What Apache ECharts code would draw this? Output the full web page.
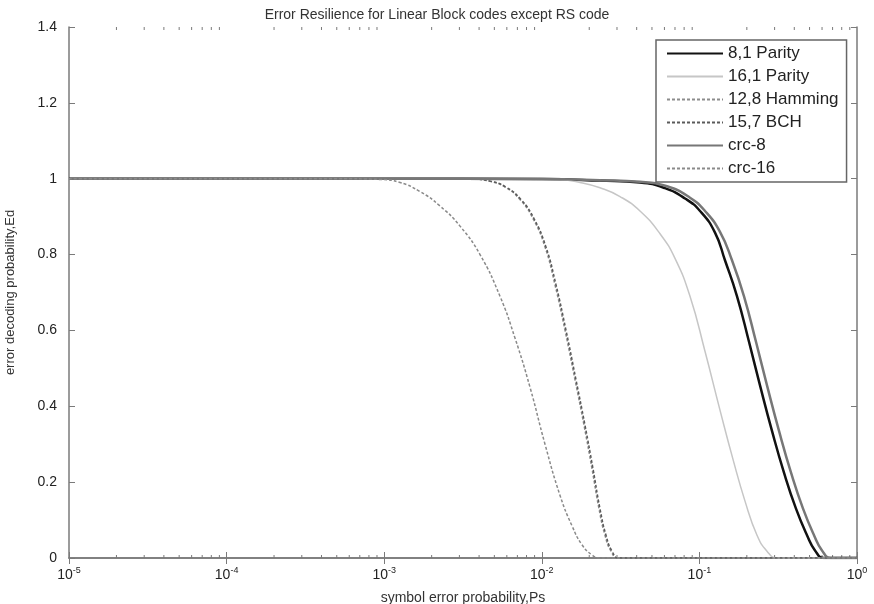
<!DOCTYPE html>
<html>
<head>
<meta charset="utf-8">
<script src="https://cdn.jsdelivr.net/npm/echarts@6/dist/echarts.min.js"></script>
<style>
  html, body { margin: 0; padding: 0; background: #fff; }
  #chart { width: 874px; height: 604px; }
</style>
</head>
<body>
<div id="chart"></div>
<script>
// values (x = symbol error probability, y = Ed)
const parity8X = [1e-5, 1e-3, 0.01, 0.02341, 0.04198, 0.06047, 0.08105, 0.1009, 0.1256, 0.1453, 0.1733, 0.2064, 0.2424, 0.2888, 0.3441, 0.4101, 0.4817, 0.5415, 0.6175, 1];
const parity8Y = [1, 1, 0.999, 0.995, 0.99, 0.975, 0.948, 0.915, 0.858, 0.785, 0.69, 0.57, 0.455, 0.335, 0.225, 0.13, 0.06, 0.02, 0, 0];

const parity16X = [1e-5, 1e-3, 0.006, 0.01305, 0.01748, 0.02341, 0.03135, 0.04198, 0.05623, 0.07001, 0.08717, 0.1085, 0.1351, 0.1634, 0.1947, 0.232, 0.2685, 0.3107, 1];
const parity16Y = [1, 1, 0.999, 0.997, 0.99, 0.976, 0.953, 0.915, 0.855, 0.79, 0.69, 0.545, 0.39, 0.26, 0.15, 0.06, 0.018, 0, 0];

const hammingX = [1e-5, 1e-3, 0.003502, 0.00469, 0.005841, 0.007272, 0.008795, 0.01048, 0.01213, 0.01404, 0.01624, 0.01853, 0.02083, 0.02306, 0.02518, 0.02749, 0.03045, 1];
const hammingY = [1, 1, 0.999, 0.993, 0.978, 0.945, 0.895, 0.82, 0.72, 0.6, 0.47, 0.35, 0.235, 0.13, 0.06, 0.018, 0, 0];

const bchX = [1e-5, 1e-3, 0.00355, 0.00476, 0.00593, 0.00738, 0.00892, 0.01063, 0.01231, 0.01425, 0.01648, 0.0188, 0.02114, 0.0234, 0.02555, 0.0279, 0.0309, 1];
const bchY = [1, 1, 0.999, 0.993, 0.978, 0.945, 0.895, 0.82, 0.72, 0.6, 0.47, 0.35, 0.235, 0.13, 0.06, 0.018, 0, 0];

const crc8X = [1e-5, 1e-3, 0.01, 0.02341, 0.04198, 0.06227, 0.08717, 0.1085, 0.1351, 0.161, 0.1919, 0.2286, 0.2685, 0.32, 0.3814, 0.4545, 0.5336, 0.5998, 0.6839, 1];
const crc8Y = [1, 1, 0.999, 0.996, 0.992, 0.98, 0.95, 0.915, 0.86, 0.785, 0.69, 0.57, 0.455, 0.335, 0.225, 0.13, 0.06, 0.02, 0, 0];

const crc16X = [1e-5, 5e-4, 0.00094, 0.00126, 0.001688, 0.00226, 0.003027, 0.004054, 0.005429, 0.006758, 0.008418, 0.01048, 0.01305, 0.01554, 0.01799, 0.02083, 0.02341, 1];
const crc16Y = [1, 1, 0.998, 0.99, 0.966, 0.928, 0.875, 0.8, 0.69, 0.58, 0.45, 0.3, 0.165, 0.085, 0.035, 0.008, 0, 0];

const seriesNames = ["8,1 Parity", "16,1 Parity", "12,8 Hamming", "15,7 BCH", "crc-8", "crc-16"];
const yTicks = [0, 0.2, 0.4, 0.6, 0.8, 1, 1.2, 1.4];
const xDecades = [-5, -4, -3, -2, -1, 0];

// minor ticks 2..9 in each decade, like a matlab log axis
const minorTicks = [];
xDecades.slice(0, -1).forEach(function (e) {
  for (let m = 2; m <= 9; m++) minorTicks.push(m * Math.pow(10, e));
});

const pairs = (xs, ys) => xs.map((x, i) => [x, ys[i]]);
const FONT = "Liberation Sans";
const AXIS_GRAY = "#7a7a7a";

const chart = echarts.init(document.getElementById("chart"));

function line(name, xs, ys, color, width, type) {
  return {
    name: name,
    type: "line",
    data: pairs(xs, ys),
    smooth: 0.5,
    symbol: "none",
    silent: true,
    lineStyle: { color: color, width: width, type: type || "solid" },
    itemStyle: { color: color }
  };
}

const option = {
  animation: false,
  backgroundColor: "#fff",
  title: {
    text: "Error Resilience for Linear Block codes except RS code",
    left: "center",
    top: 3,
    textStyle: { fontFamily: FONT, fontSize: 14, fontWeight: "normal", color: "#333" }
  },
  legend: {
    data: seriesNames,
    orient: "vertical",
    left: 656,
    top: 40,
    padding: [5, 8, 5, 10],
    itemGap: 6,
    itemWidth: 56,
    itemHeight: 14,
    backgroundColor: "#fff",
    borderColor: "#666",
    borderWidth: 1.5,
    itemStyle: { opacity: 0 },
    textStyle: { fontFamily: FONT, fontSize: 17, color: "#222" }
  },
  grid: { left: 69, right: 17, top: 27, bottom: 46, outerBoundsMode: "none", containLabel: false },
  xAxis: [
    {
      type: "log",
      logBase: 10,
      min: 1e-5,
      max: 1,
      name: "symbol error probability,Ps",
      nameLocation: "middle",
      nameGap: 33,
      nameTextStyle: { fontFamily: FONT, fontSize: 14, color: "#333" },
      axisLine: { show: true, lineStyle: { color: AXIS_GRAY, width: 1.5 } },
      axisTick: { inside: true, length: 6, lineStyle: { color: AXIS_GRAY } },
      splitLine: { show: false },
      axisLabel: {
        margin: 8,
        formatter: function (v) {
          const e = Math.round(Math.log10(v));
          return "{b|10}{e|" + e + "}";
        },
        rich: {
          b: { fontFamily: FONT, fontSize: 14, color: "#222" },
          e: { fontFamily: FONT, fontSize: 9, color: "#222", padding: [0, 0, 9, 0] }
        }
      }
    },
    {
      type: "log",
      logBase: 10,
      min: 1e-5,
      max: 1,
      position: "top",
      axisLine: { show: true, lineStyle: { color: AXIS_GRAY, width: 1.5 } },
      axisTick: { inside: true, length: 6, lineStyle: { color: AXIS_GRAY } },
      axisLabel: { show: false },
      splitLine: { show: false }
    }
  ],
  yAxis: [
    {
      type: "value",
      min: 0,
      max: 1.4,
      interval: 0.2,
      name: "error decoding probability,Ed",
      nameLocation: "middle",
      nameGap: 52,
      nameTextStyle: { fontFamily: FONT, fontSize: 13, color: "#333" },
      axisLine: { show: true, lineStyle: { color: AXIS_GRAY, width: 1.5 } },
      axisTick: { inside: true, length: 6, lineStyle: { color: AXIS_GRAY } },
      splitLine: { show: false },
      axisLabel: {
        margin: 12,
        fontFamily: FONT,
        fontSize: 14,
        color: "#222",
        formatter: function (v) {
          const t = yTicks.find(function (k) { return Math.abs(k - v) < 1e-9; });
          return t === undefined ? "" : String(t);
        }
      }
    },
    {
      type: "value",
      min: 0,
      max: 1.4,
      interval: 0.2,
      position: "right",
      axisLine: { show: true, lineStyle: { color: AXIS_GRAY, width: 1.5 } },
      axisTick: { inside: true, length: 6, lineStyle: { color: AXIS_GRAY } },
      axisLabel: { show: false },
      splitLine: { show: false }
    }
  ],
  series: [
    line("8,1 Parity", parity8X, parity8Y, "#111", 2.5),
    line("16,1 Parity", parity16X, parity16Y, "#c6c6c6", 1.5),
    line("12,8 Hamming", hammingX, hammingY, "#8c8c8c", 1.5, [3, 2]),
    line("15,7 BCH", bchX, bchY, "#5a5a5a", 1.5, [3, 2]),
    line("crc-8", crc8X, crc8Y, "#777", 2.5),
    line("crc-16", crc16X, crc16Y, "#8a8a8a", 1.5, [3, 2]),
    {
      // minor log ticks on bottom and top edges
      type: "custom",
      silent: true,
      data: minorTicks.map(function (v) { return [v, 0]; }),
      renderItem: function (params, api) {
        const b = api.coord([api.value(0), 0]);
        const t = api.coord([api.value(0), 1.4]);
        const st = { stroke: AXIS_GRAY, lineWidth: 1 };
        return {
          type: "group",
          children: [
            { type: "line", shape: { x1: b[0], y1: b[1], x2: b[0], y2: b[1] - 3 }, style: st },
            { type: "line", shape: { x1: t[0], y1: t[1], x2: t[0], y2: t[1] + 3 }, style: st }
          ]
        };
      },
      z: 1
    }
  ]
};

chart.setOption(option);
</script>
</body>
</html>
